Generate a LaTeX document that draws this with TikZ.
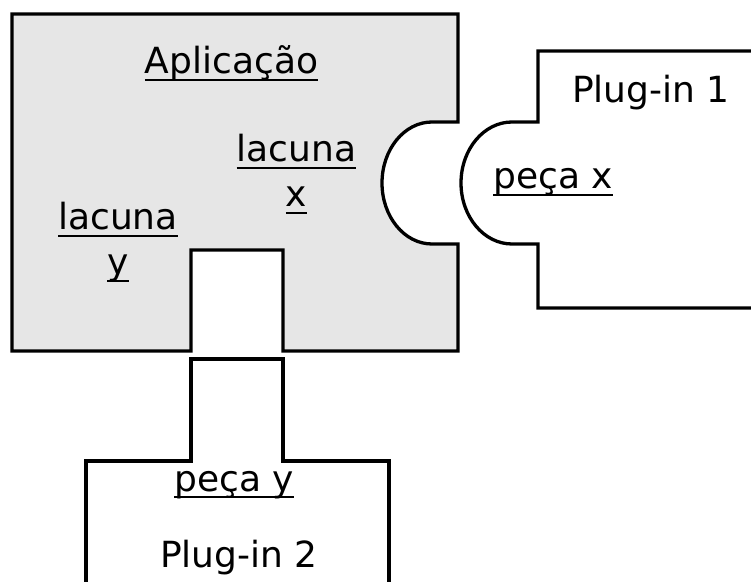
\documentclass[tikz,border=0pt]{standalone}
\usepackage{fontspec}
\setmainfont{DejaVu Sans}
\definecolor{appfill}{HTML}{E6E6E6}
\newcommand\myul[1]{\setbox0\hbox{#1}\rlap{\rule[-7pt]{\wd0}{1.8pt}}\box0}
\begin{document}
\begin{tikzpicture}[x=1pt,y=1pt,
  piece/.style={draw=black,line width=3.3pt,line join=miter},
  lbl/.style={anchor=base,inner sep=0pt,font=\fontsize{36}{45}\selectfont},
  lbl2/.style={lbl,align=center}]
\useasboundingbox (0,0) rectangle (751,581);
\clip (0,0) rectangle (751,581);
% Aplicacao
\draw[piece,fill=appfill] (12,567) -- (458,567) -- (458,459) -- (432,459)
  arc[start angle=90,end angle=270,x radius=50,y radius=61]
  -- (458,337) -- (458,230) -- (283,230) -- (283,331) -- (191,331) -- (191,230)
  -- (12,230) -- cycle;
% Plug-in 1
\draw[piece] (770,530) -- (538,530) -- (538,459) -- (512,459)
  arc[start angle=90,end angle=270,x radius=51,y radius=61]
  -- (538,337) -- (538,273) -- (770,273);
% Plug-in 2
\draw[piece] (86,-10) -- (86,120) -- (191,120) -- (191,222) -- (283,222)
  -- (283,120) -- (389,120) -- (389,-10);
% labels
\node[lbl] (app) at (231.5,507) {\myul{Aplicação}};
\node[lbl2] (lx) at (296.5,374) {\myul{lacuna}\\\myul{x}};
\node[lbl2] (ly) at (118,306) {\myul{lacuna}\\\myul{y}};
\node[lbl] (px) at (553,392) {\myul{peça x}};
\node[lbl] (p1) at (651,478) {Plug-in 1};
\node[lbl] (py) at (234,90) {\myul{peça y}};
\node[lbl] (p2) at (239,14) {Plug-in 2};
\end{tikzpicture}
\end{document}
